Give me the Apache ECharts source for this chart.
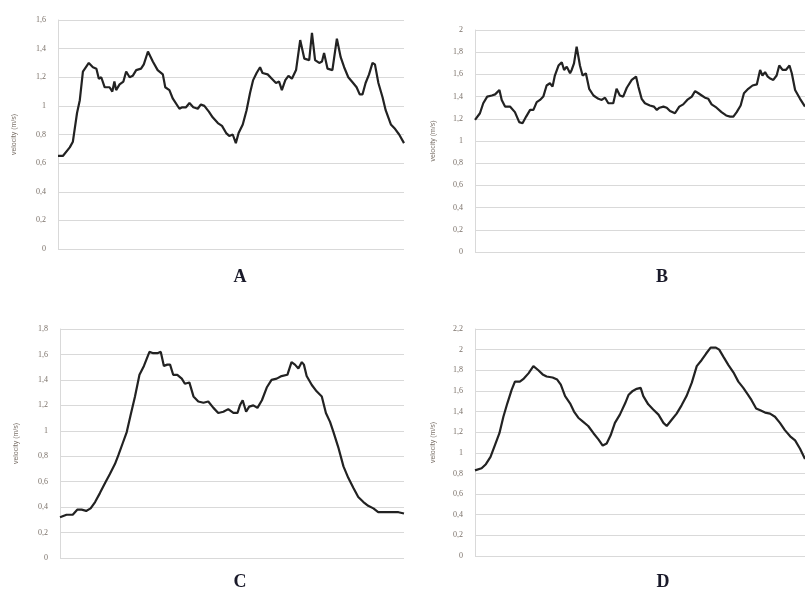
<!DOCTYPE html>
<html>
<head>
<meta charset="utf-8">
<script src="https://cdn.jsdelivr.net/npm/echarts@6/dist/echarts.min.js"></script>
<style>
  html, body { margin: 0; padding: 0; background: #fff; }
  #chart { width: 805px; height: 593px; }
</style>
</head>
<body>
<div id="chart"></div>
<script>
// time (percent of walk) and velocity (m/s)
const timeA = [0, 1.4, 3.4, 4.3, 5.5, 6.3, 7.2, 8.9, 10.1, 11.1, 11.8, 12.5, 13.5, 14.9, 15.7, 16.3, 16.8, 17.8, 18.9, 19.7, 20.7, 21.6, 22.6, 24.0, 24.8, 26.0, 27.4, 28.8, 30.3, 31.0, 32.2, 33.2, 35.1, 35.9, 37.0, 38.0, 39.1, 40.4, 41.3, 42.3, 43.6, 44.7, 46.2, 47.4, 48.6, 49.5, 50.5, 51.4, 52.2, 53.4, 54.5, 55.5, 56.4, 57.4, 58.4, 59.1, 60.6, 61.8, 63.0, 63.9, 64.7, 65.7, 66.6, 67.6, 68.8, 70.0, 71.2, 72.6, 73.4, 74.3, 75.5, 76.3, 76.9, 77.9, 79.3, 79.8, 80.6, 81.7, 82.7, 83.9, 85.3, 86.3, 87.2, 88.0, 88.9, 89.9, 90.9, 91.6, 92.6, 93.8, 94.7, 96.2, 97.4, 98.6, 100]
const velA = [0.65, 0.65, 0.71, 0.75, 0.95, 1.04, 1.24, 1.30, 1.27, 1.26, 1.19, 1.20, 1.13, 1.13, 1.10, 1.17, 1.11, 1.15, 1.17, 1.24, 1.20, 1.21, 1.25, 1.26, 1.29, 1.38, 1.31, 1.25, 1.22, 1.13, 1.11, 1.05, 0.98, 0.99, 0.99, 1.02, 0.99, 0.98, 1.01, 1.00, 0.96, 0.92, 0.88, 0.86, 0.81, 0.79, 0.80, 0.74, 0.81, 0.87, 0.97, 1.09, 1.18, 1.23, 1.27, 1.23, 1.22, 1.19, 1.16, 1.17, 1.11, 1.18, 1.21, 1.19, 1.25, 1.46, 1.33, 1.32, 1.51, 1.32, 1.30, 1.31, 1.37, 1.26, 1.25, 1.25, 1.47, 1.34, 1.27, 1.20, 1.16, 1.13, 1.08, 1.08, 1.16, 1.22, 1.30, 1.29, 1.16, 1.06, 0.97, 0.87, 0.84, 0.80, 0.74]

const timeB = [0, 1.5, 2.5, 3.7, 5.1, 6.1, 7.4, 8.1, 9.1, 10.6, 12.1, 13.4, 14.4, 15.5, 16.7, 17.7, 18.7, 19.7, 20.7, 21.7, 22.7, 23.5, 24.2, 25.3, 26.3, 27.0, 27.8, 28.8, 29.3, 30.0, 30.8, 31.8, 32.6, 33.6, 34.6, 35.9, 37.4, 38.4, 39.4, 40.4, 41.9, 42.9, 43.9, 44.9, 46.0, 47.5, 48.8, 49.5, 50.5, 51.5, 53.0, 54.2, 55.1, 55.9, 57.1, 58.1, 59.1, 60.6, 61.9, 63.1, 64.3, 65.7, 66.7, 67.7, 68.7, 69.7, 70.7, 71.7, 73.2, 74.7, 76.1, 77.3, 78.3, 79.3, 80.5, 81.5, 82.8, 84.1, 85.4, 86.4, 87.1, 87.9, 88.7, 89.6, 90.4, 91.4, 92.2, 93.2, 94.2, 95.3, 96.0, 97.0, 98.5, 100]
const velB = [1.19, 1.25, 1.34, 1.40, 1.41, 1.42, 1.46, 1.37, 1.31, 1.31, 1.26, 1.17, 1.16, 1.22, 1.28, 1.28, 1.35, 1.37, 1.40, 1.50, 1.52, 1.49, 1.59, 1.68, 1.71, 1.64, 1.67, 1.61, 1.64, 1.70, 1.85, 1.68, 1.59, 1.61, 1.47, 1.41, 1.38, 1.37, 1.39, 1.34, 1.34, 1.47, 1.41, 1.40, 1.48, 1.55, 1.58, 1.49, 1.38, 1.34, 1.32, 1.31, 1.28, 1.30, 1.31, 1.30, 1.27, 1.25, 1.31, 1.33, 1.37, 1.40, 1.45, 1.43, 1.41, 1.39, 1.38, 1.33, 1.30, 1.26, 1.23, 1.22, 1.22, 1.26, 1.32, 1.43, 1.47, 1.50, 1.51, 1.64, 1.59, 1.62, 1.58, 1.56, 1.55, 1.59, 1.68, 1.64, 1.64, 1.68, 1.61, 1.46, 1.38, 1.31]

const timeC = [0, 1.9, 3.7, 5.0, 6.3, 7.6, 8.9, 10.2, 11.6, 13.1, 14.5, 16.0, 17.0, 18.2, 19.4, 20.5, 21.8, 23.1, 24.4, 26.0, 27.1, 28.3, 29.3, 30.2, 31.2, 32.0, 32.9, 34.1, 35.4, 36.3, 37.6, 38.8, 40.2, 41.7, 43.1, 44.6, 46.0, 47.5, 48.9, 50.4, 51.6, 52.3, 53.1, 54.1, 55.0, 56.2, 57.4, 58.7, 60.1, 61.5, 63.0, 64.4, 66.1, 67.3, 68.3, 69.3, 70.3, 70.9, 71.7, 73.2, 74.6, 76.1, 77.3, 78.5, 79.5, 80.9, 82.4, 83.8, 85.3, 86.7, 88.2, 89.6, 91.1, 92.5, 94.5, 96.4, 98.4, 100]
const velC = [0.32, 0.34, 0.34, 0.38, 0.38, 0.37, 0.39, 0.44, 0.51, 0.59, 0.66, 0.74, 0.81, 0.90, 0.99, 1.12, 1.27, 1.44, 1.51, 1.62, 1.61, 1.61, 1.62, 1.51, 1.52, 1.52, 1.44, 1.44, 1.41, 1.37, 1.38, 1.27, 1.23, 1.22, 1.23, 1.18, 1.14, 1.15, 1.17, 1.14, 1.14, 1.20, 1.24, 1.15, 1.19, 1.20, 1.18, 1.24, 1.34, 1.40, 1.41, 1.43, 1.44, 1.54, 1.52, 1.49, 1.54, 1.52, 1.43, 1.36, 1.31, 1.27, 1.14, 1.07, 0.99, 0.87, 0.72, 0.63, 0.55, 0.48, 0.44, 0.41, 0.39, 0.36, 0.36, 0.36, 0.36, 0.35]

const timeD = [0, 2.0, 3.3, 4.7, 6.1, 7.4, 8.6, 9.8, 11.1, 12.1, 13.6, 14.8, 16.2, 17.7, 19.2, 20.5, 21.7, 23.5, 24.9, 26.0, 27.3, 28.8, 30.0, 31.3, 32.8, 34.3, 35.9, 37.4, 38.7, 39.9, 41.1, 42.4, 43.9, 45.5, 46.5, 47.8, 49.0, 50.2, 51.0, 52.5, 54.0, 55.6, 57.1, 58.1, 59.6, 61.1, 62.6, 64.1, 65.7, 67.2, 68.7, 70.0, 71.4, 73.0, 74.0, 75.3, 76.8, 78.3, 79.8, 81.3, 82.8, 83.8, 85.2, 86.6, 87.9, 89.4, 90.9, 92.4, 93.9, 95.5, 97.0, 98.5, 100]
const velD = [0.83, 0.85, 0.89, 0.96, 1.08, 1.19, 1.35, 1.48, 1.61, 1.69, 1.69, 1.72, 1.77, 1.84, 1.80, 1.76, 1.74, 1.73, 1.71, 1.66, 1.55, 1.48, 1.40, 1.34, 1.30, 1.26, 1.19, 1.13, 1.07, 1.09, 1.17, 1.29, 1.37, 1.48, 1.56, 1.60, 1.62, 1.63, 1.55, 1.47, 1.42, 1.37, 1.29, 1.26, 1.32, 1.38, 1.46, 1.55, 1.68, 1.84, 1.90, 1.96, 2.02, 2.02, 2.00, 1.93, 1.85, 1.78, 1.69, 1.63, 1.56, 1.51, 1.43, 1.41, 1.39, 1.38, 1.35, 1.29, 1.22, 1.16, 1.12, 1.04, 0.94]

const panelLabels = ['A', 'B', 'C', 'D']
const yMax = [1.6, 2, 1.8, 2.2]
const yName = 'velocity (m/s)'

const chart = echarts.init(document.getElementById('chart'))

const zip = (t, v) => t.map((x, i) => [x, v[i]])
const commaLabel = (v) => String(Math.round(v * 10) / 10).replace('.', ',')

const grids = [
  { left: 58, right: 401, top: 20, bottom: 344 },
  { left: 475, right: 0, top: 30, bottom: 341 },
  { left: 60, right: 401, top: 329, bottom: 35 },
  { left: 475, right: 0, top: 329, bottom: 37 },
]
const labelPos = [[240, 277], [662, 277], [240, 582], [663, 582]]

var xAxes = []
var yAxes = []
var series = []
const allData = [zip(timeA, velA), zip(timeB, velB), zip(timeC, velC), zip(timeD, velD)]

for (var i = 0; i < 4; i++) {
  xAxes.push({
    type: 'value',
    gridIndex: i,
    min: 0,
    max: 100,
    show: false,
  })
  yAxes.push({
    type: 'value',
    gridIndex: i,
    min: 0,
    max: yMax[i],
    interval: 0.2,
    name: yName,
    nameLocation: 'middle',
    nameGap: i % 2 === 0 ? 40 : 38,
    nameTextStyle: { fontSize: 7, color: '#7a7068', fontFamily: 'Liberation Sans' },
    axisLine: { show: true, lineStyle: { color: '#d9d9d9' } },
    axisTick: { show: false },
    axisLabel: {
      fontSize: 8,
      color: '#7a7068',
      margin: 12,
      fontFamily: 'Liberation Serif',
      formatter: commaLabel,
    },
    splitLine: { lineStyle: { color: '#d9d9d9', width: 1 } },
  })
  series.push({
    type: 'line',
    xAxisIndex: i,
    yAxisIndex: i,
    data: allData[i],
    showSymbol: false,
    lineStyle: { color: '#222', width: 2.2 },
    animation: false,
  })
}

chart.setOption({
  animation: false,
  grid: grids,
  xAxis: xAxes,
  yAxis: yAxes,
  series: series,
  graphic: panelLabels.map((s, i) => ({
    type: 'text',
    x: labelPos[i][0],
    y: labelPos[i][1],
    style: {
      text: s,
      fontSize: 18,
      fontWeight: 'bold',
      fontFamily: 'Liberation Serif',
      fill: '#1a1a2a',
      align: 'center',
      verticalAlign: 'middle',
    },
  })),
})
</script>
</body>
</html>
